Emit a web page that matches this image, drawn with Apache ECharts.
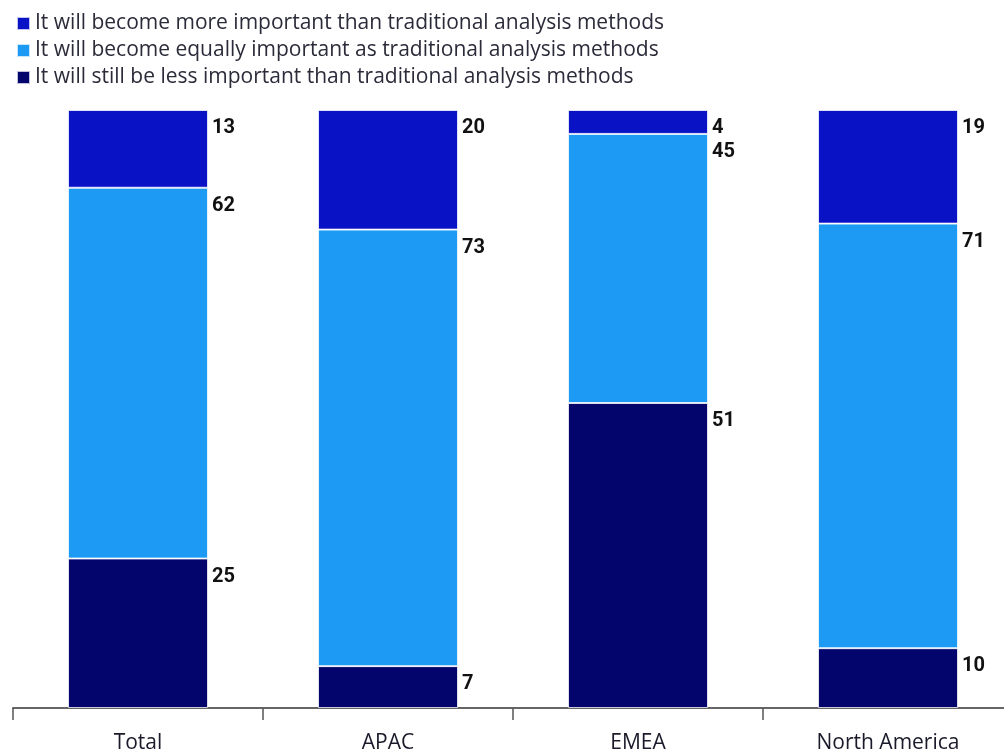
<!DOCTYPE html>
<html>
<head>
<meta charset="utf-8">
<script src="https://cdn.jsdelivr.net/npm/echarts@6/dist/echarts.min.js"></script>
<style>
  html, body { margin: 0; padding: 0; background: #ffffff; }
  #chart { width: 1004px; height: 753px; }
</style>
</head>
<body>
<div id="chart"></div>
<script>
// Regions along the x axis
const categories = ['Total', 'APAC', 'EMEA', 'North America'];

// Share of respondents (%) per answer
const moreImportant = [13, 20, 4, 19];
const equallyImportant = [62, 73, 45, 71];
const lessImportant = [25, 7, 51, 10];

const seriesNames = [
  'It will become more important than traditional analysis methods',
  'It will become equally important as traditional analysis methods',
  'It will still be less important than traditional analysis methods'
];

const colors = {
  more: '#0a12c6',
  equal: '#1c9af4',
  less: '#03046c'
};

const labelStyle = {
  show: true,
  position: [144, 18],
  align: 'left',
  verticalAlign: 'middle',
  fontFamily: 'Roboto, sans-serif',
  fontWeight: 'bold',
  fontSize: 20,
  color: '#111111'
};

function barSeries(name, data, color) {
  return {
    name: name,
    type: 'bar',
    stack: 'share',
    data: data,
    barWidth: 140,
    itemStyle: { color: color, borderColor: 'rgba(255,255,255,0.75)', borderWidth: 1 },
    label: labelStyle,
    emphasis: { disabled: true }
  };
}

const chart = echarts.init(document.getElementById('chart'));
chart.setOption({
  animation: false,
  legend: {
    data: seriesNames,
    orient: 'vertical',
    left: 11,
    top: 8,
    itemWidth: 13,
    itemHeight: 13,
    itemGap: 6,
    icon: 'rect',
    selectedMode: false,
    textStyle: {
      fontFamily: '"Open Sans", sans-serif',
      fontSize: 21,
      lineHeight: 20,
      color: '#2b2b3a'
    }
  },
  grid: { left: 13, top: 110, width: 1000, height: 598, outerBoundsMode: 'none', containLabel: false },
  xAxis: {
    type: 'category',
    data: categories,
    axisLine: { lineStyle: { color: '#666666', width: 2 } },
    axisTick: { show: true, length: 12, lineStyle: { color: '#555555', width: 1.5 } },
    axisLabel: {
      margin: 25,
      fontFamily: '"Open Sans", sans-serif',
      fontSize: 21,
      color: '#1a1a2a'
    }
  },
  yAxis: {
    type: 'value',
    min: 0,
    max: 100,
    show: false
  },
  series: [
    barSeries(seriesNames[2], lessImportant, colors.less),
    barSeries(seriesNames[1], equallyImportant, colors.equal),
    barSeries(seriesNames[0], moreImportant, colors.more)
  ]
});
</script>
</body>
</html>
